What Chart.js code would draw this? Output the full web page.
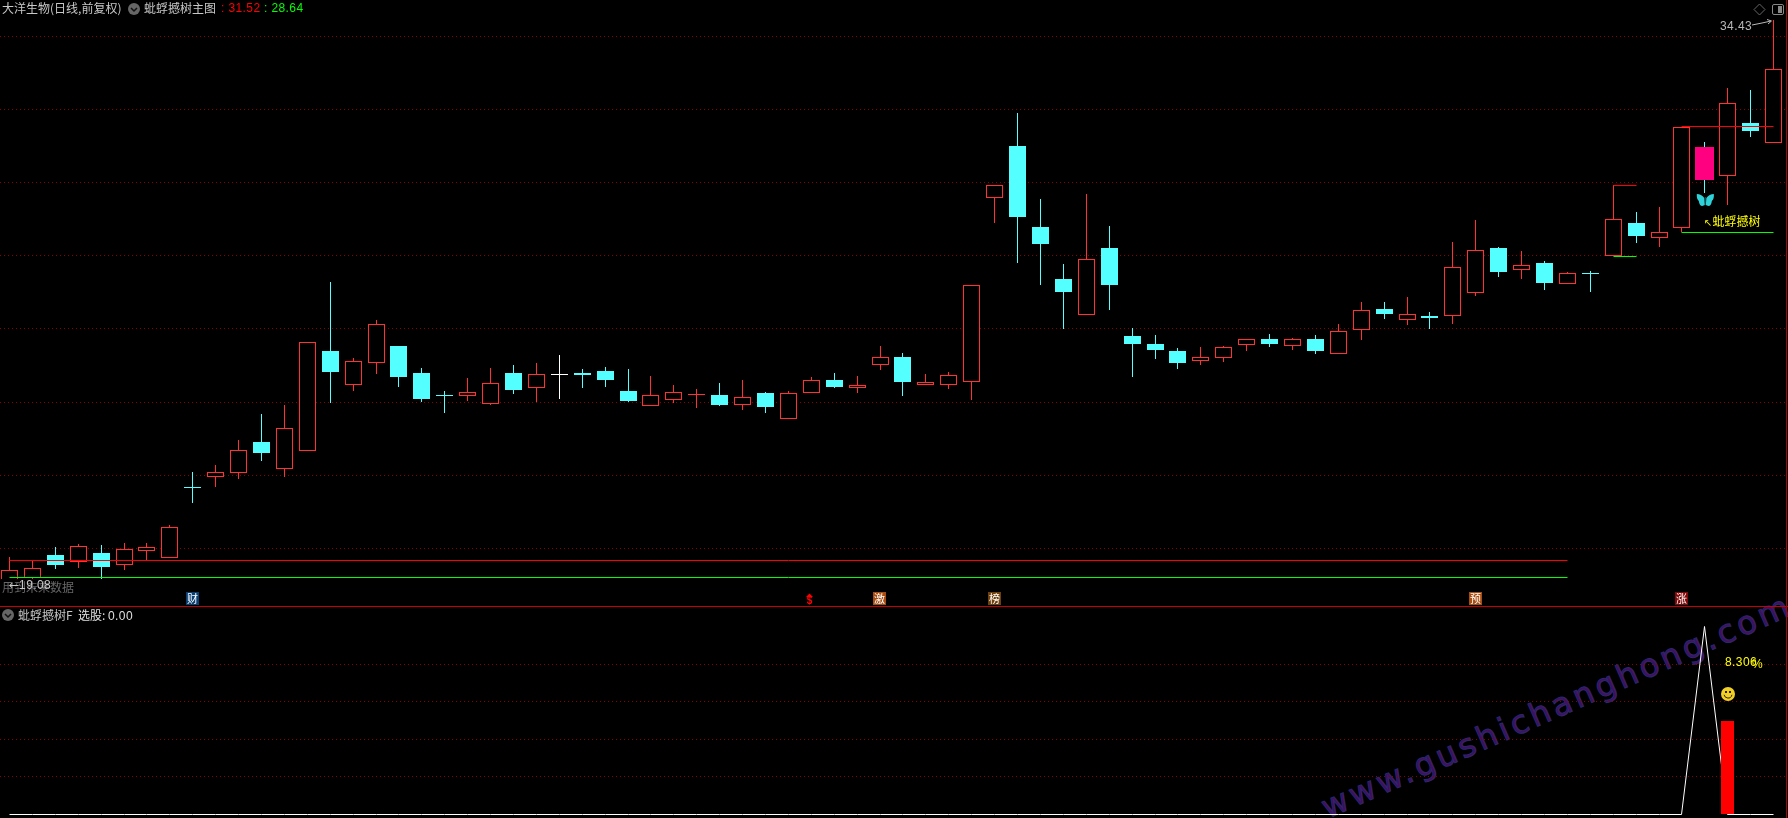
<!DOCTYPE html>
<html>
<head>
<meta charset="utf-8">
<title>蚍蜉撼树</title>
<script src="https://cdn.jsdelivr.net/npm/chart.js@4"></script>
<style>
  html, body { margin: 0; padding: 0; background: #000; width: 1788px; height: 818px; overflow: hidden; }
  canvas { position: absolute; left: 0; display: block; }
  #mainChart { top: 0; z-index: 2; }
  #lowerChart { top: 607px; z-index: 2; }
  .t { position: absolute; z-index: 4; white-space: pre; font: 12px/14px "Noto Sans CJK SC", sans-serif; color: #c8c8c8; }
  .n { font-family: "Liberation Sans", sans-serif; letter-spacing: 0.4px; }
  #sep { position: absolute; left: 0; top: 606px; width: 1788px; height: 1px; background: #c80000; z-index: 3; }
  #right { position: absolute; left: 1786px; top: 0; width: 1px; height: 818px; background: #b00000; z-index: 3; }
  #mask { position: absolute; left: 0; top: 579px; width: 80px; height: 22px; background: #000; z-index: 3; }
  #mark { position: absolute; left: 1331px; top: 787px; z-index: 1; transform: rotate(-23.7deg); transform-origin: 0 100%;
    font: 32px/40px "DejaVu Sans", sans-serif; letter-spacing: 3.7px; color: #460e5e; -webkit-text-stroke: 1px #28286e; white-space: pre; }
  svg { position: absolute; left: 0; top: 0; z-index: 4; }
</style>
</head>
<body>
<div id="mark">www.gushichanghong.com</div>
<canvas id="mainChart" width="1788" height="606"></canvas>
<canvas id="lowerChart" width="1788" height="211"></canvas>
<div id="sep"></div>
<div id="right"></div>
<div id="mask"></div>

<div class="t" style="left:2px;top:1px">大洋生物(日线,前复权)</div>
<div class="t" style="left:144px;top:1px">蚍蜉撼树主图</div>
<div class="t n" style="left:221px;top:1px;color:#ff0000">: 31.52</div>
<div class="t n" style="left:264px;top:1px;color:#00ff00">: 28.64</div>
<div class="t n" style="left:1720px;top:19px;color:#b8b8b8">34.43</div>
<div class="t" style="left:2px;top:580px;color:#666">用到未来数据</div>
<div class="t" style="left:9px;top:578px;color:#c8c8c8;font-family:'DejaVu Sans'">←<span class="n">19.08</span></div>
<div class="t" style="left:18px;top:608px">蚍蜉撼树F</div>
<div class="t" style="left:78px;top:608px;color:#e0e0e0">选股: <span class="n">0.00</span></div>
<div class="t" style="left:1704px;top:214px;color:#ffff00"><span style="font-family:'DejaVu Sans';font-size:10px">↖</span>蚍蜉撼树</div>
<div class="t n" style="left:1725px;top:655px;color:#ffff00">8.306</div>
<div class="t n" style="left:1752px;top:657px;color:#ffff00">%</div>

<svg width="1788" height="818">
  <circle cx="134" cy="9" r="6" fill="#666"/>
  <path d="M131 8 L134 11 L137 8" stroke="#111" stroke-width="1.5" fill="none"/>
  <circle cx="8" cy="615" r="6" fill="#666"/>
  <path d="M5 614 L8 617 L11 614" stroke="#111" stroke-width="1.5" fill="none"/>
  <path d="M1759.5 4 L1765 9.5 L1759.5 15 L1754 9.5 Z" stroke="#666" fill="none"/>
  <rect x="1772.5" y="4.5" width="11" height="10" rx="1.5" stroke="#888" fill="none"/>
  <rect x="1778" y="6" width="4" height="7" fill="#888"/>
  <path d="M1752 25 L1757 24 L1762 23 L1771 21 M1767 19.5 L1771.5 21 L1768 24" stroke="#b8b8b8" fill="none"/>
</svg>

<script>
  // daily OHLC
  const opens = [
    19.12, 19.20, 19.82, 19.64, 19.88, 19.56, 19.94, 19.75, 21.68, 21.96,
    22.07, 22.91, 22.18, 22.67, 25.39, 24.47, 25.07, 25.53, 24.79, 24.20,
    24.17, 23.96, 24.79, 24.39, 24.73, 24.79, 24.85, 24.30, 23.88, 24.06,
    24.20, 24.19, 23.93, 24.25, 23.54, 24.25, 24.60, 24.39, 25.02, 25.23,
    24.47, 24.47, 24.56, 29.58, 31.00, 28.78, 27.36, 26.39, 28.21, 25.80,
    25.59, 25.39, 25.13, 25.21, 25.57, 25.72, 25.54, 25.72, 25.32, 25.98,
    26.54, 26.25, 26.35, 26.36, 26.99, 28.21, 27.62, 27.80, 27.23, 27.53,
    27.98, 28.89, 28.49, 28.76, 30.97, 30.18, 31.62, 31.08,
  ];
  const closes = [
    19.41, 19.47, 19.55, 20.06, 19.50, 19.98, 20.03, 20.60, 21.66, 22.08,
    22.68, 22.61, 23.28, 25.63, 24.82, 25.11, 26.12, 24.68, 24.08, 24.18,
    24.27, 24.51, 24.33, 24.76, 24.73, 24.74, 24.60, 24.03, 24.19, 24.27,
    24.22, 23.92, 24.13, 23.87, 24.24, 24.59, 24.41, 24.48, 25.22, 24.55,
    24.54, 24.73, 27.19, 29.92, 29.06, 28.32, 27.01, 27.90, 27.20, 25.59,
    25.42, 25.07, 25.22, 25.50, 25.71, 25.59, 25.71, 25.39, 25.93, 26.51,
    26.41, 26.40, 26.30, 27.68, 28.15, 27.55, 27.74, 27.25, 27.52, 27.50,
    28.99, 28.54, 28.64, 31.51, 30.07, 32.16, 31.40, 33.09,
  ];
  const highs = [
    19.77, 19.68, 20.03, 20.12, 20.10, 20.14, 20.14, 20.63, 22.09, 22.28,
    22.96, 23.67, 23.92, 25.63, 27.28, 25.20, 26.24, 25.53, 24.93, 24.30,
    24.66, 24.93, 25.01, 25.07, 25.28, 24.90, 24.96, 24.90, 24.71, 24.47,
    24.36, 24.52, 24.60, 24.27, 24.30, 24.68, 24.79, 24.71, 25.53, 25.34,
    24.77, 24.82, 27.19, 29.92, 31.90, 29.55, 27.77, 29.68, 28.81, 26.02,
    25.83, 25.48, 25.50, 25.53, 25.72, 25.86, 25.75, 25.83, 26.13, 26.73,
    26.73, 26.87, 26.46, 28.37, 28.97, 28.24, 28.13, 27.85, 27.55, 27.58,
    29.93, 29.19, 29.33, 31.52, 31.10, 32.58, 32.52, 34.43,
  ];
  const lows = [
    19.12, 19.08, 19.44, 19.47, 19.17, 19.41, 19.66, 19.75, 21.24, 21.68,
    21.90, 22.39, 21.95, 22.67, 23.97, 24.30, 24.77, 24.41, 24.00, 23.70,
    24.03, 23.92, 24.22, 24.00, 24.08, 24.38, 24.41, 24.00, 23.88, 23.97,
    23.84, 23.89, 23.78, 23.70, 23.54, 24.25, 24.38, 24.25, 24.87, 24.16,
    24.47, 24.36, 24.06, 28.89, 27.80, 27.20, 26.00, 26.39, 26.51, 24.68,
    25.18, 24.90, 25.01, 25.09, 25.39, 25.50, 25.42, 25.31, 25.32, 25.69,
    26.27, 26.10, 26.00, 26.13, 26.90, 27.42, 27.36, 27.06, 27.23, 27.01,
    27.98, 28.35, 28.24, 28.64, 29.71, 29.38, 31.24, 31.08,
  ];

  // support / pressure levels: from, to, red value, green value
  const levelFrom = [0, 70, 73];
  const levelTo = [68, 71, 77];
  const levelRed = [19.67, 29.93, 31.52];
  const levelGreen = [19.20, 27.98, 28.64];

  const signalDay = 74; // the magenta candle

  // little tags above the separator
  const tagDay = [8, 35, 38, 43, 64, 73];
  const tagText = ["财", "$", "激", "榜", "预", "涨"];
  const tagColor = ["#0a3f73", null, "#a84c10", "#70400c", "#a84c10", "#800808"];

  // lower pane
  const lowerLine = [
    0, 0, 0, 0, 0, 0, 0, 0, 0, 0,
    0, 0, 0, 0, 0, 0, 0, 0, 0, 0,
    0, 0, 0, 0, 0, 0, 0, 0, 0, 0,
    0, 0, 0, 0, 0, 0, 0, 0, 0, 0,
    0, 0, 0, 0, 0, 0, 0, 0, 0, 0,
    0, 0, 0, 0, 0, 0, 0, 0, 0, 0,
    0, 0, 0, 0, 0, 0, 0, 0, 0, 0,
    0, 0, 0, 0, 100, 0, 0, 0,
  ];
  const lowerBarDay = [75];
  const lowerBarValue = [50];

  const RED = "#ff3232";
  const CYAN = "#54ffff";
  const GRID = "#8c0000";
  const STEP = 22.91;
  const xMin = -9.5 / STEP;
  const xMax = xMin + 1788 / STEP;

  const days = opens.map((_, i) => i);

  function candleColor(i) {
    if (closes[i] > opens[i]) return RED;
    if (closes[i] < opens[i]) return CYAN;
    return "#ffffff";
  }

  // hard pixel edges like the original terminal
  const snapPlugin = {
    id: "snap",
    afterDatasetsUpdate(chart) {
      chart.data.datasets.forEach((ds, n) => {
        chart.getDatasetMeta(n).data.forEach((el) => {
          if (ds.type === "line") {
            el.x = Math.floor(el.x) + 0.5;
            el.y = Math.floor(el.y) + 0.5;
            return;
          }
          el.x = el.width % 2 ? Math.floor(el.x) + 0.5 : Math.round(el.x);
          el.y = Math.round(el.y);
          el.base = Math.round(el.base);
          if (el.y === el.base) el.y = el.base - 1;
        });
      });
    },
  };

  const tagPlugin = {
    id: "tags",
    afterDraw(chart) {
      const c = chart.ctx;
      const x = chart.scales.x;
      c.save();
      c.textAlign = "center";
      c.textBaseline = "middle";
      tagDay.forEach((d, i) => {
        const px = Math.round(x.getPixelForValue(d));
        if (tagColor[i]) {
          c.fillStyle = tagColor[i];
          c.fillRect(px - 7, 592, 13, 13);
          c.fillStyle = "#fff";
          c.font = '11px "Noto Sans CJK SC"';
          c.fillText(tagText[i], px - 0.5, 599);
        } else {
          // the dollar sign has a small arrow head on top
          c.fillStyle = "#f00";
          c.font = 'bold 10px "Liberation Sans"';
          c.fillText(tagText[i], px - 1.5, 601);
          c.beginPath();
          c.moveTo(px - 5, 597);
          c.lineTo(px + 2, 597);
          c.lineTo(px - 1.5, 593.5);
          c.closePath();
          c.fill();
        }
      });

      // butterfly under the signal candle
      const bx = x.getPixelForValue(signalDay) + 0.5;
      const by = 200;
      c.fillStyle = "#2fd2d8";
      [-1, 1].forEach((s) => {
        c.beginPath();
        c.moveTo(bx + s * 0.5, by + 5);
        c.lineTo(bx + s * 1, by - 2);
        c.quadraticCurveTo(bx + s * 4, by - 6, bx + s * 8.5, by - 6);
        c.quadraticCurveTo(bx + s * 9, by - 1, bx + s * 6.5, by + 1);
        c.quadraticCurveTo(bx + s * 6, by + 6, bx + s * 3, by + 6);
        c.closePath();
        c.fill();
      });
      c.strokeStyle = "#0b5f66";
      c.beginPath();
      c.moveTo(bx, by + 5);
      c.lineTo(bx, by - 3);
      c.stroke();
      c.restore();
    },
  };

  const smilePlugin = {
    id: "smile",
    afterDraw(chart) {
      const c = chart.ctx;
      const sx = Math.round(chart.scales.x.getPixelForValue(75));
      const sy = 87;
      c.save();
      c.fillStyle = "#f0d028";
      c.beginPath();
      c.arc(sx, sy, 7, 0, Math.PI * 2);
      c.fill();
      c.fillStyle = "#332200";
      c.fillRect(sx - 3, sy - 3, 2, 2);
      c.fillRect(sx + 1, sy - 3, 2, 2);
      c.strokeStyle = "#332200";
      c.beginPath();
      c.arc(sx, sy, 4, 0.2, Math.PI - 0.2);
      c.stroke();
      c.restore();
    },
  };

  function baseOptions(yMin, yMax, step, gridColor) {
    return {
      responsive: false,
      animation: false,
      events: [],
      layout: { padding: 0 },
      plugins: { legend: { display: false }, tooltip: { enabled: false } },
      scales: {
        x: {
          type: "linear",
          offset: false,
          min: xMin,
          max: xMax,
          grid: { display: false, drawTicks: false },
          border: { display: false },
          ticks: { display: false },
        },
        y: {
          min: yMin,
          max: yMax,
          grid: { color: gridColor, drawTicks: false },
          border: { display: false, dash: [1, 3] },
          ticks: { display: false, stepSize: step, includeBounds: false },
        },
      },
    };
  }

  function levelPoints(values) {
    const pts = [];
    values.forEach((v, i) => {
      pts.push({ x: levelFrom[i], y: v }, { x: levelTo[i], y: v });
      pts.push({ x: levelTo[i] + 0.5, y: null });
    });
    return pts;
  }

  function renderMain() {
    const normal = days.filter((i) => i !== signalDay);
    new Chart(document.getElementById("mainChart"), {
      type: "bar",
      data: {
        datasets: [
          {
            type: "line",
            data: levelPoints(levelRed),
            borderColor: "#ff0000",
            borderWidth: 1,
            pointRadius: 0,
            order: 1,
          },
          {
            type: "line",
            data: levelPoints(levelGreen),
            borderColor: "#00ff00",
            borderWidth: 1,
            pointRadius: 0,
            order: 1,
          },
          {
            data: normal.map((i) => ({ x: i, y: [opens[i], closes[i]] })),
            grouped: false,
            barThickness: 17,
            borderWidth: 1,
            borderSkipped: false,
            inflateAmount: 0,
            borderColor: normal.map(candleColor),
            backgroundColor: normal.map((i) => (closes[i] > opens[i] ? "#000000" : candleColor(i))),
            order: 2,
          },
          {
            data: [{ x: signalDay, y: [opens[signalDay], closes[signalDay]] }],
            grouped: false,
            barThickness: 19,
            inflateAmount: 0,
            backgroundColor: "#ff0080",
            order: 2,
          },
          {
            data: days.map((i) => ({ x: i, y: [lows[i], highs[i]] })),
            grouped: false,
            barThickness: 1,
            inflateAmount: 0,
            backgroundColor: days.map(candleColor),
            order: 3,
          },
        ],
      },
      options: baseOptions(18.43, 34.984, 2, GRID),
      plugins: [snapPlugin, tagPlugin],
    });
  }

  function renderLower() {
    new Chart(document.getElementById("lowerChart"), {
      type: "bar",
      data: {
        datasets: [
          {
            data: lowerBarDay.map((d, i) => ({ x: d, y: [0, lowerBarValue[i]] })),
            grouped: false,
            barThickness: 13,
            inflateAmount: 0,
            backgroundColor: "#ff0000",
            order: 1,
          },
          {
            type: "line",
            data: days.map((i) => ({ x: i, y: lowerLine[i] })),
            borderColor: "#ffffff",
            borderWidth: 1,
            pointRadius: 0,
            order: 2,
          },
        ],
      },
      options: baseOptions(-1.97, 110.6, 20, (ctx) =>
        ctx.tick && ctx.tick.value > 0 && ctx.tick.value < 100 ? GRID : "transparent"
      ),
      plugins: [snapPlugin, smilePlugin],
    });
  }

  document.addEventListener("DOMContentLoaded", () => {
    renderMain();
    renderLower();
  });
</script>
</body>
</html>
